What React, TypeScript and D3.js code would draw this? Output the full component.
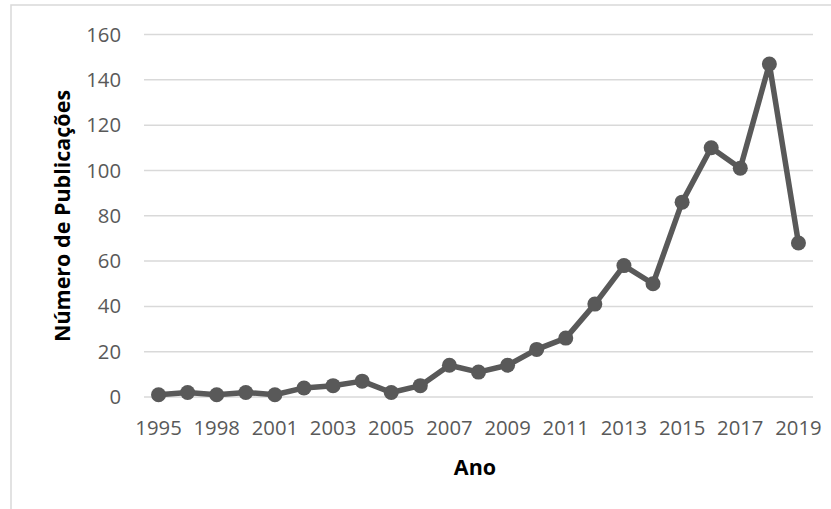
import React from "react";
import * as d3 from "d3";

// Publicações por ano
const years: string[] = [
  "1995", "1997", "1998", "2000", "2001", "2002", "2003", "2004", "2005", "2006",
  "2007", "2008", "2009", "2010", "2011", "2012", "2013", "2014", "2015", "2016",
  "2017", "2018", "2019",
];
const publications: number[] = [
  1, 2, 1, 2, 1, 4, 5, 7, 2, 5, 14, 11, 14, 21, 26, 41, 58, 50, 86, 110, 101, 147, 68,
];
const yTicks: number[] = [0, 20, 40, 60, 80, 100, 120, 140, 160];

const W = 831;
const H = 509;
const plot = { left: 144, right: 813, top: 34.5, bottom: 397 };
const FONT = "'Open Sans', 'Noto Sans', sans-serif";
const INK = "#595959";
const GRID = "#d9d9d9";

export default function App() {
  const x = d3
    .scaleBand<string>()
    .domain(years)
    .range([plot.left, plot.right])
    .paddingInner(0)
    .paddingOuter(0);
  const cx = (d: string) => (x(d) ?? 0) + x.bandwidth() / 2;
  const y = d3.scaleLinear().domain([0, 160]).range([plot.bottom, plot.top]);

  const points = years.map((yr, i) => ({ yr, v: publications[i] }));
  const line = d3
    .line<{ yr: string; v: number }>()
    .x((d) => cx(d.yr))
    .y((d) => y(d.v));

  return (
    <svg
      width={W}
      height={H}
      style={{ position: "absolute", left: 0, top: 0, background: "#fff" }}
      fontFamily={FONT}
    >
      <rect x={11} y={5} width={W} height={H} fill="#fff" stroke={GRID} strokeWidth={1.5} />

      {yTicks.map((t) => (
        <g key={t}>
          <line
            x1={plot.left}
            x2={plot.right}
            y1={y(t)}
            y2={y(t)}
            stroke={GRID}
            strokeWidth={1.5}
          />
          <text
            x={121}
            y={y(t)}
            dy="0.35em"
            textAnchor="end"
            fontSize={20.3}
            fill={INK}
          >
            {t}
          </text>
        </g>
      ))}

      {years.map((yr, i) =>
        i % 2 === 0 ? (
          <text
            key={yr}
            x={cx(yr)}
            y={434.5}
            textAnchor="middle"
            fontSize={20.3}
            fill={INK}
          >
            {yr}
          </text>
        ) : null
      )}

      <path d={line(points) ?? ""} fill="none" stroke={INK} strokeWidth={5.5} strokeLinejoin="round" />
      {points.map((p) => (
        <circle key={p.yr} cx={cx(p.yr)} cy={y(p.v)} r={7.5} fill={INK} />
      ))}

      <text
        x={475}
        y={475}
        textAnchor="middle"
        fontSize={21.5}
        fontWeight="bold"
        fill="#000"
      >
        Ano
      </text>
      <text
        transform={`translate(62,216) rotate(-90)`}
        textAnchor="middle"
        dy="0.35em"
        fontSize={21.5}
        fontWeight="bold"
        fill="#000"
      >
        Número de Publicações
      </text>
    </svg>
  );
}
